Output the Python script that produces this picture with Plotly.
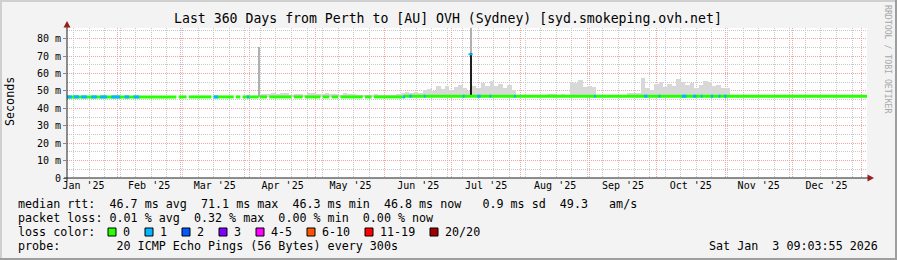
import plotly.graph_objects as go
from datetime import datetime, timedelta

# ---------------- data ----------------
X_RANGE = ["2025-01-09 02:00", "2026-01-03 16:30"]
Y_RANGE = [0, 86.2]

y_tick_vals = [0, 10, 20, 30, 40, 50, 60, 70, 80]
y_tick_text = ["0", "10 m", "20 m", "30 m", "40 m", "50 m", "60 m", "70 m", "80 m"]

# median rtt line segments (ms); breaks are missing data
median_seg_start = ["2025-01-09 02:00", "2025-02-28 06:00", "2025-03-04 20:00", "2025-03-16 00:00",
                    "2025-03-26 00:00", "2025-03-29 00:00", "2025-04-05 18:00", "2025-04-10 00:00",
                    "2025-04-21 00:00", "2025-04-26 00:00", "2025-05-04 00:00", "2025-05-08 00:00",
                    "2025-05-12 00:00", "2025-05-23 00:00", "2025-05-27 00:00", "2025-06-09 12:00"]
median_seg_end = ["2025-02-27 06:00", "2025-03-03 20:00", "2025-03-15 00:00", "2025-03-25 00:00",
                  "2025-03-28 00:00", "2025-04-05 06:00", "2025-04-09 00:00", "2025-04-20 00:00",
                  "2025-04-25 00:00", "2025-05-03 00:00", "2025-05-07 00:00", "2025-05-11 00:00",
                  "2025-05-22 00:00", "2025-05-26 00:00", "2025-06-09 00:00", "2026-01-03 16:30"]
median_seg_value = [46.6, 46.6, 46.6, 46.6, 46.6, 46.6, 46.6, 46.6,
                    46.6, 46.6, 46.6, 46.6, 46.6, 46.6, 46.6, 47.0]

# periods where the median is drawn with loss colour "1"
loss1_start = ["2025-01-09 02:00", "2025-01-12 06:00", "2025-01-15 12:00", "2025-01-20 00:00",
               "2025-01-24 00:00", "2025-01-29 00:00", "2025-02-04 00:00", "2025-02-08 00:00",
               "2025-03-16 00:00", "2025-03-31 00:00", "2025-06-09 00:00", "2025-06-12 00:00",
               "2025-06-18 12:00", "2025-07-06 00:00", "2025-07-12 12:00", "2025-07-18 00:00",
               "2025-07-29 00:00", "2025-09-03 00:00", "2025-09-25 12:00", "2025-10-02 00:00",
               "2025-10-12 12:00", "2025-10-17 12:00", "2025-10-21 00:00", "2025-10-25 12:00",
               "2025-10-29 00:00", "2025-10-31 12:00"]
loss1_end = ["2025-01-11 06:00", "2025-01-14 12:00", "2025-01-18 00:00", "2025-01-22 12:00",
             "2025-01-27 00:00", "2025-02-02 00:00", "2025-02-06 00:00", "2025-02-10 12:00",
             "2025-03-18 00:00", "2025-04-01 00:00", "2025-06-10 00:00", "2025-06-13 00:00",
             "2025-06-19 06:00", "2025-07-06 18:00", "2025-07-14 00:00", "2025-07-18 18:00",
             "2025-07-29 18:00", "2025-09-03 18:00", "2025-09-27 00:00", "2025-10-02 18:00",
             "2025-10-14 12:00", "2025-10-19 00:00", "2025-10-21 18:00", "2025-10-26 12:00",
             "2025-10-29 18:00", "2025-11-01 12:00"]

# smoke (rtt spread) upper edge, ms
smoke_dates = ["2025-01-13",
               "2025-04-06", "2025-04-08", "2025-04-10", "2025-04-12", "2025-04-14", "2025-04-16",
               "2025-04-18", "2025-04-20", "2025-04-22", "2025-04-24", "2025-04-26", "2025-04-28",
               "2025-04-30", "2025-05-02", "2025-05-04", "2025-05-06", "2025-05-08", "2025-05-10",
               "2025-05-12", "2025-05-14", "2025-05-16", "2025-05-18", "2025-05-20", "2025-05-22",
               "2025-05-24", "2025-05-26", "2025-05-28", "2025-05-30", "2025-06-01", "2025-06-03",
               "2025-06-05", "2025-06-07",
               "2025-06-09", "2025-06-11", "2025-06-13", "2025-06-15", "2025-06-17", "2025-06-19",
               "2025-06-21", "2025-06-23", "2025-06-25", "2025-06-27", "2025-06-29", "2025-07-01",
               "2025-07-03", "2025-07-05", "2025-07-07", "2025-07-09", "2025-07-11", "2025-07-13",
               "2025-07-15", "2025-07-17", "2025-07-19", "2025-07-21", "2025-07-23", "2025-07-25",
               "2025-07-27", "2025-07-29",
               "2025-08-14", "2025-08-16", "2025-08-18", "2025-08-20",
               "2025-08-24", "2025-08-26", "2025-08-28", "2025-08-30", "2025-09-01", "2025-09-03",
               "2025-09-19", "2025-09-21", "2025-09-23", "2025-09-25", "2025-09-27", "2025-09-29",
               "2025-10-01", "2025-10-03", "2025-10-05", "2025-10-07", "2025-10-09", "2025-10-11",
               "2025-10-13", "2025-10-15", "2025-10-17", "2025-10-19", "2025-10-21", "2025-10-23",
               "2025-10-25", "2025-10-27", "2025-10-29", "2025-10-31", "2025-11-02"]
smoke_top = [47.6,
             48.3, 48.0, 48.5, 48.6, 48.2, 48.7,
             48.6, 47.8, 48.4, 48.5, 47.9, 48.8,
             48.9, 48.3, 48.2, 48.6, 48.1, 48.4,
             47.9, 48.6, 48.0, 48.2, 47.8, 47.6,
             47.8, 47.5, 48.0, 47.6, 47.7, 47.9,
             47.6, 48.2,
             48.8, 49.2, 48.7, 49.5, 48.9, 50.5,
             51.4, 49.8, 52.6, 51.0, 53.1, 50.6,
             52.4, 53.3, 51.8, 50.2, 52.8, 51.5,
             54.6, 53.0, 55.8, 52.9, 54.2, 51.6,
             53.5, 50.3,
             48.0, 48.5, 47.9, 48.3,
             55.2, 54.8, 56.2, 52.5, 53.0, 52.2,
             48.6, 49.1, 48.9, 57.2, 51.6, 50.8,
             53.9, 55.1, 52.4, 54.0, 52.9, 56.8,
             55.3, 53.6, 54.4, 51.9, 53.4, 55.6,
             55.4, 52.7, 53.2, 52.0, 51.5]

# single-interval rtt spikes
spike_dates = ["2025-04-05 12:00", "2025-07-09 12:00"]
spike_top = [75.0, 92.0]
core_dates = ["2025-07-09 12:00"]
core_top = [71.7]
peak_median_dates = ["2025-07-09 12:00"]
peak_median_values = [71.1]

loss_labels = ["0", "1", "2", "3", "4-5", "6-10", "11-19", "20/20"]
loss_colors = ["#26ff00", "#00b8ff", "#0059ff", "#7e00ff", "#ff00ff", "#ff5500", "#ff0000", "#a10000"]

title_text = "Last 360 Days from Perth to [AU] OVH (Sydney) [syd.smokeping.ovh.net]"
legend_lines = [
    "median rtt:  46.7 ms avg  71.1 ms max  46.3 ms min  46.8 ms now   0.9 ms sd  49.3   am/s",
    "packet loss: 0.01 % avg  0.32 % max  0.00 % min  0.00 % now",
    "loss color:",
    "probe:        20 ICMP Echo Pings (56 Bytes) every 300s",
]
stamp_text = "Sat Jan  3 09:03:55 2026"
watermark = "RRDTOOL / TOBI OETIKER"

# ---------------- helpers ----------------
FMT = "%Y-%m-%d %H:%M"


def parse(d):
    return datetime.strptime(d if " " in d else d + " 00:00", FMT)


def median_at(d):
    t = parse(d)
    val = median_seg_value[0]
    for s, v in zip(median_seg_start, median_seg_value):
        if parse(s) <= t:
            val = v
    return val


DAY_MS = 86400000

W, H = 897, 260
L, R, T, B = 67, 867, 28, 178


def px(x):
    return (x - L) / (R - L)


def py(y):
    return (B - y) / (B - T)


def nb(s):
    return s.replace(" ", "\u00a0")


MONO = "DejaVu Sans Mono"
MAJOR_GRID = "#f3a4a4"
MINOR_GRID = "#c8c8c8"

# ---------------- traces ----------------
fig = go.Figure()

fig.add_trace(go.Bar(
    x=smoke_dates,
    y=[t - median_at(d) for d, t in zip(smoke_dates, smoke_top)],
    base=[median_at(d) for d in smoke_dates],
    width=2 * DAY_MS, marker=dict(color="#d8d8d8", line=dict(width=0)),
    showlegend=False, hoverinfo="skip"))

fig.add_trace(go.Bar(
    x=spike_dates,
    y=[t - median_at(d) for d, t in zip(spike_dates, spike_top)],
    base=[median_at(d) for d in spike_dates],
    width=0.45 * DAY_MS, marker=dict(color="#b0b0b0", line=dict(width=0)),
    showlegend=False, hoverinfo="skip"))

fig.add_trace(go.Bar(
    x=core_dates,
    y=[t - median_at(d) for d, t in zip(core_dates, core_top)],
    base=[median_at(d) for d in core_dates],
    width=0.9 * DAY_MS, marker=dict(color="#1e1e1e", line=dict(width=0)),
    showlegend=False, hoverinfo="skip"))

mx, my = [], []
for s, e, v in zip(median_seg_start, median_seg_end, median_seg_value):
    mx += [s, e, None]
    my += [v, v, None]
fig.add_trace(go.Scatter(x=mx, y=my, mode="lines",
                         line=dict(color=loss_colors[0], width=3),
                         showlegend=False, hoverinfo="skip"))

bx, by = [], []
for s, e in zip(loss1_start, loss1_end):
    v = median_at(s)
    bx += [s, e, None]
    by += [v, v, None]
fig.add_trace(go.Scatter(x=bx, y=by, mode="lines",
                         line=dict(color=loss_colors[1], width=3),
                         showlegend=False, hoverinfo="skip"))

fig.add_trace(go.Scatter(x=peak_median_dates, y=peak_median_values, mode="markers",
                         marker=dict(symbol="line-ew", size=3,
                                     line=dict(color=loss_colors[1], width=2)),
                         showlegend=False, hoverinfo="skip"))

# ---------------- layout ----------------
shapes = []
# axis lines
shapes.append(dict(type="line", xref="paper", yref="paper", x0=px(64), x1=px(868), y0=py(178), y1=py(178),
                   line=dict(color="#202020", width=1)))
shapes.append(dict(type="line", xref="paper", yref="paper", x0=px(67), x1=px(67), y0=py(181), y1=py(25),
                   line=dict(color="#202020", width=1)))
# arrows
shapes.append(dict(type="path", xref="paper", yref="paper",
                   path=f"M {px(67)} {py(21)} L {px(63.5)} {py(27.5)} L {px(70.5)} {py(27.5)} Z",
                   fillcolor="#9b1c1c", line=dict(width=0)))
shapes.append(dict(type="path", xref="paper", yref="paper",
                   path=f"M {px(874)} {py(178)} L {px(867.5)} {py(174.5)} L {px(867.5)} {py(181.5)} Z",
                   fillcolor="#9b1c1c", line=dict(width=0)))
# frame
shapes.append(dict(type="rect", xref="paper", yref="paper", x0=px(0), x1=px(W), y0=py(0), y1=py(2),
                   fillcolor="#cfcfcf", line=dict(width=0)))
shapes.append(dict(type="rect", xref="paper", yref="paper", x0=px(0), x1=px(2), y0=py(0), y1=py(H),
                   fillcolor="#cfcfcf", line=dict(width=0)))
shapes.append(dict(type="rect", xref="paper", yref="paper", x0=px(0), x1=px(W), y0=py(H - 2), y1=py(H),
                   fillcolor="#9e9e9e", line=dict(width=0)))
shapes.append(dict(type="rect", xref="paper", yref="paper", x0=px(W - 2), x1=px(W), y0=py(0), y1=py(H),
                   fillcolor="#9e9e9e", line=dict(width=0)))

# loss colour legend boxes
box_x = [108, 145, 182, 219, 256, 307, 365, 430]
annotations = []
for bxp, lab, col in zip(box_x, loss_labels, loss_colors):
    shapes.append(dict(type="rect", xref="paper", yref="paper",
                       x0=px(bxp), x1=px(bxp + 8), y0=py(236), y1=py(228),
                       fillcolor=col, line=dict(color="#000000", width=1)))
    annotations.append(dict(text=nb(lab), xref="paper", yref="paper", x=px(bxp + 13), y=py(232),
                            xanchor="left", yanchor="middle", showarrow=False,
                            font=dict(family=MONO, size=11.7, color="#000")))

annotations.append(dict(text=nb(title_text), xref="paper", yref="paper", x=px(448), y=py(19),
                        xanchor="center", yanchor="middle", showarrow=False,
                        font=dict(family=MONO, size=13.2, color="#000")))
for i, line in enumerate(legend_lines):
    annotations.append(dict(text=nb(line), xref="paper", yref="paper", x=px(16), y=py(203.5 + i * 14.3),
                            xanchor="left", yanchor="middle", showarrow=False,
                            font=dict(family=MONO, size=11.7, color="#000")))
annotations.append(dict(text=nb(stamp_text), xref="paper", yref="paper", x=px(880), y=py(246.4),
                        xanchor="right", yanchor="middle", showarrow=False,
                        font=dict(family=MONO, size=11.7, color="#000")))
annotations.append(dict(text="Seconds", xref="paper", yref="paper", x=px(10), y=py(102),
                        xanchor="center", yanchor="middle", textangle=-90, showarrow=False,
                        font=dict(family=MONO, size=11.7, color="#000")))
annotations.append(dict(text=nb(watermark), xref="paper", yref="paper", x=px(888), y=py(59),
                        xanchor="center", yanchor="middle", textangle=90, showarrow=False,
                        font=dict(family=MONO, size=8.2, color="#a8a8a8")))

fig.update_layout(
    width=W, height=H,
    margin=dict(l=L, r=W - R, t=T, b=H - B, pad=0),
    paper_bgcolor="#f3f3f3", plot_bgcolor="#ffffff",
    barmode="overlay", bargap=0,
    showlegend=False,
    shapes=shapes, annotations=annotations,
    xaxis=dict(
        type="date", range=X_RANGE,
        tickmode="linear", tick0="2025-01-01", dtick="M1",
        tickformat="%b '%y", ticklabelmode="period",
        ticks="", showline=False, zeroline=False,
        showgrid=True, gridcolor=MAJOR_GRID, griddash="1px,1px", gridwidth=1,
        minor=dict(tick0="2025-01-05", dtick=7 * DAY_MS, showgrid=True,
                   gridcolor=MINOR_GRID, griddash="1px,1px", gridwidth=1),
        tickfont=dict(family=MONO, size=10, color="#000"),
        fixedrange=True,
    ),
    yaxis=dict(
        range=Y_RANGE, tickmode="array", tickvals=y_tick_vals, ticktext=y_tick_text,
        ticks="outside", ticklen=3, tickcolor="#888888",
        showline=False, zeroline=False,
        showgrid=True, gridcolor=MAJOR_GRID, griddash="1px,1px", gridwidth=1,
        minor=dict(tickmode="array", tickvals=[5, 15, 25, 35, 45, 55, 65, 75, 85], showgrid=True,
                   gridcolor=MINOR_GRID, griddash="1px,1px", gridwidth=1),
        tickfont=dict(family=MONO, size=10, color="#000"),
        fixedrange=True,
    ),
)

fig.write_html("out.html")
